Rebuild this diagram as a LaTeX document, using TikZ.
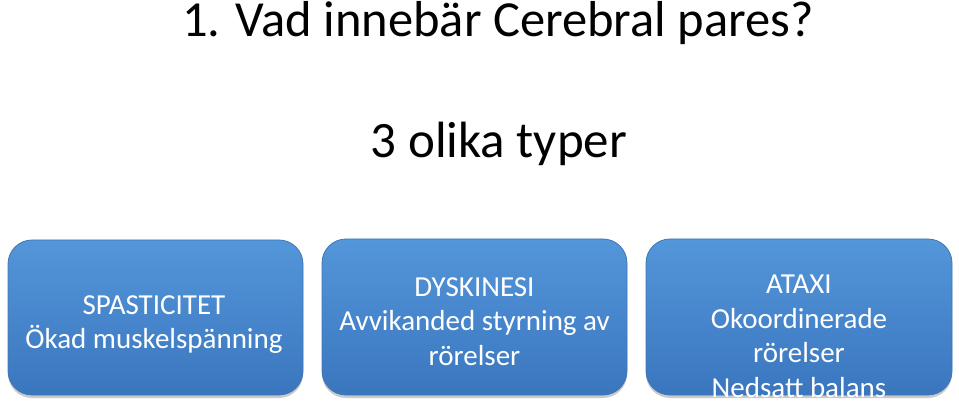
\documentclass[tikz,border=0pt]{standalone}
\usepackage{fontspec}
\setmainfont{Carlito}
\usetikzlibrary{shadows}
\definecolor{boxtop}{RGB}{84,150,218}
\definecolor{boxbot}{RGB}{58,118,190}
\definecolor{boxline}{RGB}{64,118,182}
\begin{document}
\begin{tikzpicture}[x=1pt,y=-1pt,
  catbox/.style={rounded corners=24pt, top color=boxtop, bottom color=boxbot, draw=boxline, line width=0.8pt,
    drop shadow={shadow xshift=0pt, shadow yshift=-3pt, opacity=0.35, fill=black!60}},
  cattext/.style={text=white, align=center, font=\fontsize{29}{34.5}\selectfont, inner sep=0pt, anchor=north},
  headtext/.style={text=black, inner sep=0pt}]
\useasboundingbox (0,0) rectangle (959,406);
\node[headtext, anchor=base west, font=\fontsize{50.5}{60}\selectfont] (title) at (182,37) {1. Vad innebär Cerebral pares?};
\node[headtext, anchor=base, font=\fontsize{51}{60}\selectfont] (sub) at (499,158) {3 olika typer};
\path[catbox] (8,240) rectangle (303,395);
\path[catbox] (322,239) rectangle (627,395);
\path[catbox] (646,239) rectangle (952,395);
\node[cattext] (spas) at (154,295) {SPASTICITET\\Ökad muskelspänning};
\node[cattext] (dysk) at (474.5,277) {DYSKINESI\\Avvikanded styrning av\\rörelser};
\node[cattext] (atax) at (799,275) {ATAXI\\Okoordinerade\\rörelser\\Nedsatt balans};
\end{tikzpicture}
\end{document}
